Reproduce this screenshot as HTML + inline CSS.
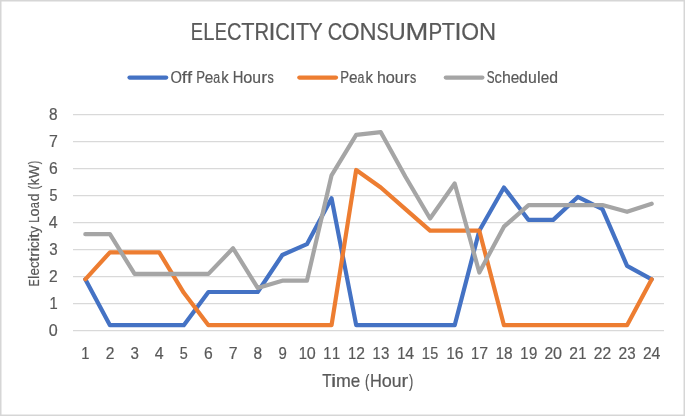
<!DOCTYPE html>
<html><head><meta charset="utf-8"><style>
html,body{margin:0;padding:0;background:#fff;}
body{width:685px;height:416px;overflow:hidden;}
svg{display:block;will-change:transform;filter:blur(0.3px);}
text{font-family:"Liberation Sans", sans-serif;fill:#595959;stroke:#595959;stroke-width:0.2px;}
</style></head><body>
<svg width="685" height="416" viewBox="0 0 685 416">
<rect x="0.75" y="0.75" width="683.5" height="414.5" fill="#fff" stroke="#d6d6d6" stroke-width="1.5"/>
<line x1="73.0" y1="330.60" x2="664.0" y2="330.60" stroke="#d9d9d9" stroke-width="1.45"/>
<line x1="73.0" y1="303.60" x2="664.0" y2="303.60" stroke="#d9d9d9" stroke-width="1.45"/>
<line x1="73.0" y1="276.60" x2="664.0" y2="276.60" stroke="#d9d9d9" stroke-width="1.45"/>
<line x1="73.0" y1="249.60" x2="664.0" y2="249.60" stroke="#d9d9d9" stroke-width="1.45"/>
<line x1="73.0" y1="222.60" x2="664.0" y2="222.60" stroke="#d9d9d9" stroke-width="1.45"/>
<line x1="73.0" y1="195.60" x2="664.0" y2="195.60" stroke="#d9d9d9" stroke-width="1.45"/>
<line x1="73.0" y1="168.60" x2="664.0" y2="168.60" stroke="#d9d9d9" stroke-width="1.45"/>
<line x1="73.0" y1="141.60" x2="664.0" y2="141.60" stroke="#d9d9d9" stroke-width="1.45"/>
<line x1="73.0" y1="114.60" x2="664.0" y2="114.60" stroke="#d9d9d9" stroke-width="1.45"/>
<text transform="translate(57.00,336.10)" y="0" style="font-size:15.81px"><tspan x="-8.34" textLength="8.97" lengthAdjust="spacingAndGlyphs">0</tspan></text>
<text transform="translate(57.00,309.10)" y="0" style="font-size:15.81px"><tspan x="-7.49" textLength="8.21" lengthAdjust="spacingAndGlyphs">1</tspan></text>
<text transform="translate(57.00,282.10)" y="0" style="font-size:15.81px"><tspan x="-7.89" textLength="8.68" lengthAdjust="spacingAndGlyphs">2</tspan></text>
<text transform="translate(57.00,255.10)" y="0" style="font-size:15.81px"><tspan x="-7.73" textLength="8.40" lengthAdjust="spacingAndGlyphs">3</tspan></text>
<text transform="translate(57.00,228.10)" y="0" style="font-size:15.81px"><tspan x="-8.39" textLength="8.85" lengthAdjust="spacingAndGlyphs">4</tspan></text>
<text transform="translate(57.00,201.10)" y="0" style="font-size:15.81px"><tspan x="-7.40" textLength="8.00" lengthAdjust="spacingAndGlyphs">5</tspan></text>
<text transform="translate(57.00,174.10)" y="0" style="font-size:15.81px"><tspan x="-8.04" textLength="8.73" lengthAdjust="spacingAndGlyphs">6</tspan></text>
<text transform="translate(57.00,147.10)" y="0" style="font-size:15.81px"><tspan x="-8.05" textLength="8.85" lengthAdjust="spacingAndGlyphs">7</tspan></text>
<text transform="translate(57.00,120.10)" y="0" style="font-size:15.81px"><tspan x="-7.90" textLength="8.57" lengthAdjust="spacingAndGlyphs">8</tspan></text>
<text transform="translate(85.66,358.50)" y="0" style="font-size:15.81px"><tspan x="-4.31" textLength="8.21" lengthAdjust="spacingAndGlyphs">1</tspan></text>
<text transform="translate(109.96,358.50)" y="0" style="font-size:15.81px"><tspan x="-4.34" textLength="8.68" lengthAdjust="spacingAndGlyphs">2</tspan></text>
<text transform="translate(134.63,358.50)" y="0" style="font-size:15.81px"><tspan x="-4.15" textLength="8.40" lengthAdjust="spacingAndGlyphs">3</tspan></text>
<text transform="translate(159.19,358.50)" y="0" style="font-size:15.81px"><tspan x="-4.38" textLength="8.85" lengthAdjust="spacingAndGlyphs">4</tspan></text>
<text transform="translate(183.70,358.50)" y="0" style="font-size:15.81px"><tspan x="-3.99" textLength="8.00" lengthAdjust="spacingAndGlyphs">5</tspan></text>
<text transform="translate(208.52,358.50)" y="0" style="font-size:15.81px"><tspan x="-4.42" textLength="8.73" lengthAdjust="spacingAndGlyphs">6</tspan></text>
<text transform="translate(233.19,358.50)" y="0" style="font-size:15.81px"><tspan x="-4.43" textLength="8.85" lengthAdjust="spacingAndGlyphs">7</tspan></text>
<text transform="translate(257.69,358.50)" y="0" style="font-size:15.81px"><tspan x="-4.29" textLength="8.57" lengthAdjust="spacingAndGlyphs">8</tspan></text>
<text transform="translate(282.56,358.50)" y="0" style="font-size:15.81px"><tspan x="-4.17" textLength="8.34" lengthAdjust="spacingAndGlyphs">9</tspan></text>
<text transform="translate(307.45,358.50)" y="0" style="font-size:15.81px"><tspan x="-8.76" textLength="8.21" lengthAdjust="spacingAndGlyphs">1</tspan><tspan x="-0.70" textLength="8.97" lengthAdjust="spacingAndGlyphs">0</tspan></text>
<text transform="translate(331.91,358.50)" y="0" style="font-size:15.81px"><tspan x="-8.60" textLength="8.21" lengthAdjust="spacingAndGlyphs">1</tspan><tspan x="-0.01" textLength="8.21" lengthAdjust="spacingAndGlyphs">1</tspan></text>
<text transform="translate(356.56,358.50)" y="0" style="font-size:15.81px"><tspan x="-8.62" textLength="8.21" lengthAdjust="spacingAndGlyphs">1</tspan><tspan x="-0.40" textLength="8.68" lengthAdjust="spacingAndGlyphs">2</tspan></text>
<text transform="translate(381.22,358.50)" y="0" style="font-size:15.81px"><tspan x="-8.66" textLength="8.21" lengthAdjust="spacingAndGlyphs">1</tspan><tspan x="-0.20" textLength="8.40" lengthAdjust="spacingAndGlyphs">3</tspan></text>
<text transform="translate(406.03,358.50)" y="0" style="font-size:15.81px"><tspan x="-8.84" textLength="8.21" lengthAdjust="spacingAndGlyphs">1</tspan><tspan x="-0.67" textLength="8.85" lengthAdjust="spacingAndGlyphs">4</tspan></text>
<text transform="translate(430.29,358.50)" y="0" style="font-size:15.81px"><tspan x="-8.48" textLength="8.21" lengthAdjust="spacingAndGlyphs">1</tspan><tspan x="-0.04" textLength="8.00" lengthAdjust="spacingAndGlyphs">5</tspan></text>
<text transform="translate(455.13,358.50)" y="0" style="font-size:15.81px"><tspan x="-8.69" textLength="8.21" lengthAdjust="spacingAndGlyphs">1</tspan><tspan x="-0.47" textLength="8.73" lengthAdjust="spacingAndGlyphs">6</tspan></text>
<text transform="translate(479.77,358.50)" y="0" style="font-size:15.81px"><tspan x="-8.71" textLength="8.21" lengthAdjust="spacingAndGlyphs">1</tspan><tspan x="-0.46" textLength="8.85" lengthAdjust="spacingAndGlyphs">7</tspan></text>
<text transform="translate(504.33,358.50)" y="0" style="font-size:15.81px"><tspan x="-8.64" textLength="8.21" lengthAdjust="spacingAndGlyphs">1</tspan><tspan x="-0.38" textLength="8.57" lengthAdjust="spacingAndGlyphs">8</tspan></text>
<text transform="translate(529.01,358.50)" y="0" style="font-size:15.81px"><tspan x="-8.69" textLength="8.21" lengthAdjust="spacingAndGlyphs">1</tspan><tspan x="-0.06" textLength="8.34" lengthAdjust="spacingAndGlyphs">9</tspan></text>
<text transform="translate(553.35,358.50)" y="0" style="font-size:15.81px"><tspan x="-8.78" textLength="8.68" lengthAdjust="spacingAndGlyphs">2</tspan><tspan x="-0.35" textLength="8.97" lengthAdjust="spacingAndGlyphs">0</tspan></text>
<text transform="translate(577.81,358.50)" y="0" style="font-size:15.81px"><tspan x="-8.61" textLength="8.68" lengthAdjust="spacingAndGlyphs">2</tspan><tspan x="0.34" textLength="8.21" lengthAdjust="spacingAndGlyphs">1</tspan></text>
<text transform="translate(602.46,358.50)" y="0" style="font-size:15.81px"><tspan x="-8.63" textLength="8.68" lengthAdjust="spacingAndGlyphs">2</tspan><tspan x="-0.04" textLength="8.68" lengthAdjust="spacingAndGlyphs">2</tspan></text>
<text transform="translate(627.12,358.50)" y="0" style="font-size:15.81px"><tspan x="-8.67" textLength="8.68" lengthAdjust="spacingAndGlyphs">2</tspan><tspan x="0.15" textLength="8.40" lengthAdjust="spacingAndGlyphs">3</tspan></text>
<text transform="translate(651.93,358.50)" y="0" style="font-size:15.81px"><tspan x="-8.85" textLength="8.68" lengthAdjust="spacingAndGlyphs">2</tspan><tspan x="-0.32" textLength="8.85" lengthAdjust="spacingAndGlyphs">4</tspan></text>
<text transform="translate(192.20,39.90)" y="0" style="font-size:24.67px"><tspan x="-1.50" textLength="12.22" lengthAdjust="spacingAndGlyphs">E</tspan><tspan x="11.17" textLength="11.22" lengthAdjust="spacingAndGlyphs">L</tspan><tspan x="22.53" textLength="12.22" lengthAdjust="spacingAndGlyphs">E</tspan><tspan x="34.92" textLength="14.51" lengthAdjust="spacingAndGlyphs">C</tspan><tspan x="49.00" textLength="13.25" lengthAdjust="spacingAndGlyphs">T</tspan><tspan x="62.30" textLength="14.69" lengthAdjust="spacingAndGlyphs">R</tspan><tspan x="76.26" textLength="7.00" lengthAdjust="spacingAndGlyphs">I</tspan><tspan x="82.94" textLength="14.51" lengthAdjust="spacingAndGlyphs">C</tspan><tspan x="97.03" textLength="7.00" lengthAdjust="spacingAndGlyphs">I</tspan><tspan x="103.69" textLength="13.25" lengthAdjust="spacingAndGlyphs">T</tspan><tspan x="116.30" textLength="13.80" lengthAdjust="spacingAndGlyphs">Y</tspan> <tspan x="135.47" textLength="14.51" lengthAdjust="spacingAndGlyphs">C</tspan><tspan x="149.57" textLength="17.84" lengthAdjust="spacingAndGlyphs">O</tspan><tspan x="167.20" textLength="17.13" lengthAdjust="spacingAndGlyphs">N</tspan><tspan x="184.19" textLength="12.18" lengthAdjust="spacingAndGlyphs">S</tspan><tspan x="196.46" textLength="16.98" lengthAdjust="spacingAndGlyphs">U</tspan><tspan x="213.35" textLength="22.79" lengthAdjust="spacingAndGlyphs">M</tspan><tspan x="236.26" textLength="13.71" lengthAdjust="spacingAndGlyphs">P</tspan><tspan x="249.53" textLength="13.25" lengthAdjust="spacingAndGlyphs">T</tspan><tspan x="262.43" textLength="7.00" lengthAdjust="spacingAndGlyphs">I</tspan><tspan x="269.11" textLength="17.84" lengthAdjust="spacingAndGlyphs">O</tspan><tspan x="286.74" textLength="17.13" lengthAdjust="spacingAndGlyphs">N</tspan></text>
<line x1="129.5" y1="77.6" x2="166.2" y2="77.6" stroke="#4472c4" stroke-width="4.2" stroke-linecap="round"/>
<text transform="translate(171.20,82.90)" y="0" style="font-size:15.81px"><tspan x="-0.70" textLength="11.43" lengthAdjust="spacingAndGlyphs">O</tspan><tspan x="10.57" textLength="5.09" lengthAdjust="spacingAndGlyphs">f</tspan><tspan x="15.74" textLength="5.09" lengthAdjust="spacingAndGlyphs">f</tspan> <tspan x="24.94" textLength="8.79" lengthAdjust="spacingAndGlyphs">P</tspan><tspan x="33.53" textLength="8.53" lengthAdjust="spacingAndGlyphs">e</tspan><tspan x="42.16" textLength="6.91" lengthAdjust="spacingAndGlyphs">a</tspan><tspan x="50.17" textLength="7.42" lengthAdjust="spacingAndGlyphs">k</tspan> <tspan x="61.60" textLength="10.66" lengthAdjust="spacingAndGlyphs">H</tspan><tspan x="72.15" textLength="9.07" lengthAdjust="spacingAndGlyphs">o</tspan><tspan x="81.16" textLength="8.79" lengthAdjust="spacingAndGlyphs">u</tspan><tspan x="89.95" textLength="5.99" lengthAdjust="spacingAndGlyphs">r</tspan><tspan x="96.19" textLength="6.28" lengthAdjust="spacingAndGlyphs">s</tspan></text>
<line x1="299.3" y1="77.6" x2="336.0" y2="77.6" stroke="#ed7d31" stroke-width="4.2" stroke-linecap="round"/>
<text transform="translate(341.40,82.90)" y="0" style="font-size:15.81px"><tspan x="-1.08" textLength="8.79" lengthAdjust="spacingAndGlyphs">P</tspan><tspan x="7.51" textLength="8.53" lengthAdjust="spacingAndGlyphs">e</tspan><tspan x="16.14" textLength="6.91" lengthAdjust="spacingAndGlyphs">a</tspan><tspan x="24.15" textLength="7.42" lengthAdjust="spacingAndGlyphs">k</tspan> <tspan x="35.71" textLength="8.82" lengthAdjust="spacingAndGlyphs">h</tspan><tspan x="44.47" textLength="9.07" lengthAdjust="spacingAndGlyphs">o</tspan><tspan x="53.48" textLength="8.79" lengthAdjust="spacingAndGlyphs">u</tspan><tspan x="62.27" textLength="5.99" lengthAdjust="spacingAndGlyphs">r</tspan><tspan x="68.52" textLength="6.28" lengthAdjust="spacingAndGlyphs">s</tspan></text>
<line x1="445.8" y1="77.6" x2="482.4" y2="77.6" stroke="#a5a5a5" stroke-width="4.2" stroke-linecap="round"/>
<text transform="translate(487.30,82.90)" y="0" style="font-size:15.81px"><tspan x="-0.53" textLength="7.81" lengthAdjust="spacingAndGlyphs">S</tspan><tspan x="7.29" textLength="7.27" lengthAdjust="spacingAndGlyphs">c</tspan><tspan x="14.58" textLength="8.82" lengthAdjust="spacingAndGlyphs">h</tspan><tspan x="23.37" textLength="8.53" lengthAdjust="spacingAndGlyphs">e</tspan><tspan x="31.79" textLength="8.78" lengthAdjust="spacingAndGlyphs">d</tspan><tspan x="40.75" textLength="8.79" lengthAdjust="spacingAndGlyphs">u</tspan><tspan x="49.75" textLength="3.68" lengthAdjust="spacingAndGlyphs">l</tspan><tspan x="53.51" textLength="8.53" lengthAdjust="spacingAndGlyphs">e</tspan><tspan x="61.92" textLength="8.78" lengthAdjust="spacingAndGlyphs">d</tspan></text>
<text transform="translate(322.50,387.40)" y="0" style="font-size:17.53px"><tspan x="-0.35" textLength="9.42" lengthAdjust="spacingAndGlyphs">T</tspan><tspan x="8.46" textLength="5.26" lengthAdjust="spacingAndGlyphs">i</tspan><tspan x="13.42" textLength="14.82" lengthAdjust="spacingAndGlyphs">m</tspan><tspan x="28.24" textLength="9.47" lengthAdjust="spacingAndGlyphs">e</tspan> <tspan x="42.45" textLength="4.31" lengthAdjust="spacingAndGlyphs">(</tspan><tspan x="47.52" textLength="11.82" lengthAdjust="spacingAndGlyphs">H</tspan><tspan x="59.22" textLength="10.06" lengthAdjust="spacingAndGlyphs">o</tspan><tspan x="69.22" textLength="9.75" lengthAdjust="spacingAndGlyphs">u</tspan><tspan x="78.96" textLength="6.64" lengthAdjust="spacingAndGlyphs">r</tspan><tspan x="86.50" textLength="4.25" lengthAdjust="spacingAndGlyphs">)</tspan></text>
<text transform="translate(38.80,285.30) rotate(-90)" y="0" style="font-size:14.08px"><tspan x="-0.86" textLength="6.98" lengthAdjust="spacingAndGlyphs">E</tspan><tspan x="6.39" textLength="3.28" lengthAdjust="spacingAndGlyphs">l</tspan><tspan x="9.74" textLength="7.60" lengthAdjust="spacingAndGlyphs">e</tspan><tspan x="17.24" textLength="6.47" lengthAdjust="spacingAndGlyphs">c</tspan><tspan x="23.65" textLength="4.94" lengthAdjust="spacingAndGlyphs">t</tspan><tspan x="28.63" textLength="5.33" lengthAdjust="spacingAndGlyphs">r</tspan><tspan x="33.60" textLength="4.22" lengthAdjust="spacingAndGlyphs">i</tspan><tspan x="37.41" textLength="6.47" lengthAdjust="spacingAndGlyphs">c</tspan><tspan x="43.45" textLength="4.22" lengthAdjust="spacingAndGlyphs">i</tspan><tspan x="47.29" textLength="4.94" lengthAdjust="spacingAndGlyphs">t</tspan><tspan x="52.41" textLength="6.71" lengthAdjust="spacingAndGlyphs">y</tspan> <tspan x="62.68" textLength="6.41" lengthAdjust="spacingAndGlyphs">L</tspan><tspan x="68.90" textLength="8.08" lengthAdjust="spacingAndGlyphs">o</tspan><tspan x="77.07" textLength="6.15" lengthAdjust="spacingAndGlyphs">a</tspan><tspan x="84.11" textLength="7.82" lengthAdjust="spacingAndGlyphs">d</tspan> <tspan x="95.96" textLength="3.46" lengthAdjust="spacingAndGlyphs">(</tspan><tspan x="100.14" textLength="6.61" lengthAdjust="spacingAndGlyphs">k</tspan><tspan x="106.97" textLength="13.37" lengthAdjust="spacingAndGlyphs">W</tspan><tspan x="121.07" textLength="3.42" lengthAdjust="spacingAndGlyphs">)</tspan></text>
<polyline points="85.31,279.30 109.94,325.20 134.56,325.20 159.19,325.20 183.81,325.20 208.44,291.99 233.06,291.99 257.69,291.99 282.31,255.00 306.94,244.20 331.56,198.30 356.19,325.20 380.81,325.20 405.44,325.20 430.06,325.20 454.69,325.20 479.31,230.70 503.94,187.50 528.56,219.90 553.19,219.90 577.81,196.95 602.44,209.10 627.06,265.80 651.69,279.30" fill="none" stroke="#4472c4" stroke-width="4.2" stroke-linejoin="round" stroke-linecap="round"/>
<polyline points="85.31,279.30 109.94,252.30 134.56,252.30 159.19,252.30 183.81,292.80 208.44,325.20 233.06,325.20 257.69,325.20 282.31,325.20 306.94,325.20 331.56,325.20 356.19,169.95 380.81,187.50 405.44,209.10 430.06,230.70 454.69,230.70 479.31,230.70 503.94,325.20 528.56,325.20 553.19,325.20 577.81,325.20 602.44,325.20 627.06,325.20 651.69,279.30" fill="none" stroke="#ed7d31" stroke-width="4.2" stroke-linejoin="round" stroke-linecap="round"/>
<polyline points="85.31,234.21 109.94,234.21 134.56,273.90 159.19,273.90 183.81,273.90 208.44,273.90 233.06,248.25 257.69,287.94 282.31,280.65 306.94,280.65 331.56,175.35 356.19,134.85 380.81,132.15 405.44,176.70 430.06,218.55 454.69,183.45 479.31,272.55 503.94,226.65 528.56,205.05 553.19,205.05 577.81,205.05 602.44,205.05 627.06,211.80 651.69,203.70" fill="none" stroke="#a5a5a5" stroke-width="4.2" stroke-linejoin="round" stroke-linecap="round"/>
</svg>
</body></html>
